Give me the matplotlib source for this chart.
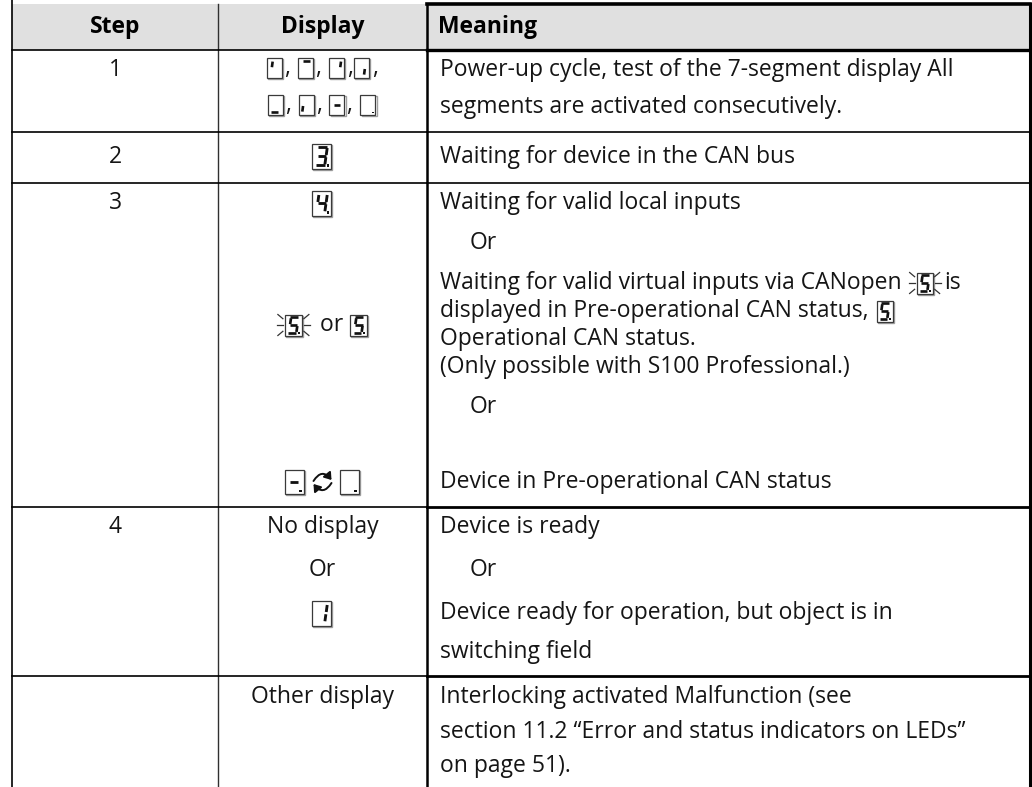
import matplotlib
matplotlib.use("Agg")
import matplotlib.pyplot as plt
from matplotlib.patches import Rectangle, FancyArrowPatch

plt.rcParams['font.family'] = ['Open Sans', 'DejaVu Sans']

W, H = 1032, 787
FS = 16.5      # body font size (pt)
BODY = "#151515"

# ---------------- table content ----------------
headers = ["Step", "Display", "Meaning"]
col_x = [12, 218, 427, 1030]          # column borders
row_y = [4, 50, 132, 183, 507, 676]   # header top, then top of each body row
steps = ["1", "2", "3", "4", ""]
step_y = [70, 157, 203, 527, 697]

# 7-segment icons: which segments are lit
SEG_CYCLE = [["f"], ["a"], ["b"], ["c"], ["d"], ["e"], ["g"], ["dp"]]
DIGIT_3 = ["a", "b", "g", "c", "d", "dp"]
DIGIT_4 = ["f", "g", "b", "c", "dp"]
DIGIT_5 = ["a", "f", "g", "c", "d", "dp"]
DIGIT_MINUS = ["g", "dp"]
DIGIT_DOT = ["dp"]
DIGIT_1 = ["b", "c"]

meaning_lines = [
    # (y, indent, text)
    (70, 0, "Power-up cycle, test of the 7-segment display All"),
    (107, 0, "segments are activated consecutively."),
    (157, 0, "Waiting for device in the CAN bus"),
    (203, 0, "Waiting for valid local inputs"),
    (243, 30, "Or"),
    (283, 0, "Waiting for valid virtual inputs via CANopen"),
    (311, 0, "displayed in Pre-operational CAN status,"),
    (339, 0, "Operational CAN status."),
    (367, 0, "(Only possible with S100 Professional.)"),
    (407, 30, "Or"),
    (482, 0, "Device in Pre-operational CAN status"),
    (527, 0, "Device is ready"),
    (570, 30, "Or"),
    (613, 0, "Device ready for operation, but object is in"),
    (652, 0, "switching field"),
    (697, 0, "Interlocking activated Malfunction (see"),
    (732, 0, "section 11.2 \u201cError and status indicators on LEDs\u201d"),
    (766, 0, "on page 51)."),
]
display_texts = [(527, "No display"), (570, "Or"), (697, "Other display")]

fig = plt.figure(figsize=(W / 100, H / 100), dpi=100)
ax = fig.add_axes([0, 0, 1, 1])
ax.set_xlim(0, W)
ax.set_ylim(H, 0)
ax.axis("off")
renderer = fig.canvas.get_renderer()


def text_right(t):
    # right edge of a text object in data coords
    bb = t.get_window_extent(renderer)
    return ax.transData.inverted().transform((bb.x1, bb.y0))[0]


def text_width(s):
    t = ax.text(0, 0, s, fontsize=FS)
    bb = t.get_window_extent(renderer)
    t.remove()
    return bb.width


SEGS = {
    "a": [(0.30, 0.13), (0.78, 0.13)],
    "b": [(0.80, 0.18), (0.75, 0.46)],
    "c": [(0.73, 0.55), (0.68, 0.83)],
    "d": [(0.20, 0.87), (0.66, 0.87)],
    "e": [(0.30, 0.55), (0.25, 0.83)],
    "f": [(0.36, 0.18), (0.31, 0.46)],
    "g": [(0.30, 0.505), (0.73, 0.505)],
}


def seg_icon(x, yc, segs, w=15, h=20, blink=False):
    """small 7-segment display box, x = left edge, yc = vertical centre"""
    y0 = yc - h / 2
    ax.add_patch(Rectangle((x + 1.2, y0 + 1.2), w, h, facecolor="none",
                           edgecolor="#a0a0a0", lw=1.0))
    ax.add_patch(Rectangle((x, y0), w, h, facecolor="white",
                           edgecolor="#3a3a3a", lw=0.9))
    lw = 1.3 + 0.03 * h
    for s in segs:
        if s == "dp":
            ax.add_patch(Rectangle((x + w * 0.78, y0 + h * 0.83), 0.12 * w, 0.09 * h,
                                   facecolor="#111111", lw=0))
            continue
        (u0, v0), (u1, v1) = SEGS[s]
        ax.plot([x + u0 * w, x + u1 * w], [y0 + v0 * h, y0 + v1 * h],
                color="#111111", lw=lw, solid_capstyle="butt")
    if blink:
        for dx, dy, ex, ey in [(-2, 0.5, -8, 0.5), (-2, 0.2, -7, 0.0),
                               (-2, 0.8, -7, 1.0), (w + 2, 0.5, w + 8, 0.5),
                               (w + 2, 0.2, w + 7, 0.0), (w + 2, 0.8, w + 7, 1.0)]:
            ax.plot([x + dx, x + ex], [y0 + dy * h, y0 + ey * h],
                    color="#333333", lw=0.9)


def cycle_arrows(xc, yc, r=9):
    """two half-circle arrows (toggle symbol)"""
    kw = dict(arrowstyle="-|>,head_length=4,head_width=2.8", color="#111111",
              lw=1.4, mutation_scale=1, shrinkA=0, shrinkB=0)
    ax.add_patch(FancyArrowPatch((xc - r, yc - 1), (xc + r, yc - 2),
                                 connectionstyle="arc3,rad=-0.7", **kw))
    ax.add_patch(FancyArrowPatch((xc + r, yc + 1), (xc - r, yc + 2),
                                 connectionstyle="arc3,rad=-0.7", **kw))


def icon_row(xc, yc, items, w=15, h=20, gap=1):
    """items: segment lists (icon), tuples (blinking icon), 'CYCLE' or strings"""
    widths = []
    for it in items:
        if isinstance(it, str):
            widths.append(22 if it == "CYCLE" else text_width(it))
        elif isinstance(it, tuple):
            widths.append(w + 2 + 18)
        else:
            widths.append(w + 2)
    total = sum(widths) + gap * (len(items) - 1)
    x = xc - total / 2
    for it, wd in zip(items, widths):
        if it == "CYCLE":
            cycle_arrows(x + wd / 2, yc)
        elif isinstance(it, str):
            ax.text(x, yc, it, fontsize=FS, color=BODY, va="center", ha="left")
        elif isinstance(it, tuple):
            seg_icon(x + 9, yc, it[0], w, h, blink=True)
        else:
            seg_icon(x, yc, it, w, h)
        x += wd + gap


# ---------------- header ----------------
ax.add_patch(Rectangle((col_x[0], row_y[0]), col_x[3] - col_x[0], row_y[1] - row_y[0],
                       facecolor="#e0e0e0", edgecolor="none"))
ax.plot([col_x[2], col_x[3]], [row_y[0], row_y[0]], color="black", lw=2.6)
hy = (row_y[0] + row_y[1]) / 2
ax.text((col_x[0] + col_x[1]) / 2, hy, headers[0], fontsize=FS, fontweight="bold",
        ha="center", va="center", color="black")
ax.text((col_x[1] + col_x[2]) / 2, hy, headers[1], fontsize=FS, fontweight="bold",
        ha="center", va="center", color="black")
ax.text(col_x[2] + 11, hy, headers[2], fontsize=FS, fontweight="bold",
        ha="left", va="center", color="black")

# ---------------- grid lines ----------------
ax.plot([col_x[0], col_x[0]], [0, H], color="black", lw=1.2)
ax.plot([col_x[1], col_x[1]], [row_y[0], H], color="#303030", lw=1.0)
ax.plot([col_x[2], col_x[2]], [row_y[0], H], color="black", lw=1.8)
ax.plot([col_x[3], col_x[3]], [row_y[0], H], color="black", lw=2.2)
thick = {50: 2.4, 507: 2.0, 676: 2.0}
for y in row_y[1:]:
    ax.plot([col_x[0], col_x[2]], [y, y], color="black", lw=1.2)
    ax.plot([col_x[2], col_x[3]], [y, y], color="black", lw=thick.get(y, 1.2))

# ---------------- step column ----------------
for s, y in zip(steps, step_y):
    if s:
        ax.text((col_x[0] + col_x[1]) / 2, y, s, fontsize=FS, color=BODY,
                ha="center", va="center")

# ---------------- display column ----------------
xc = (col_x[1] + col_x[2]) / 2
icon_row(xc, 68, [SEG_CYCLE[0], ", ", SEG_CYCLE[1], ", ", SEG_CYCLE[2], ",", SEG_CYCLE[3], ","])
icon_row(xc, 105, [SEG_CYCLE[4], ", ", SEG_CYCLE[5], ", ", SEG_CYCLE[6], ", ", SEG_CYCLE[7]])
icon_row(xc, 156, [DIGIT_3], w=19, h=25)
icon_row(xc, 203, [DIGIT_4], w=19, h=25)
icon_row(xc, 325, [(DIGIT_5,), " or ", DIGIT_5], w=17, h=21)
icon_row(xc, 482, [DIGIT_MINUS, "CYCLE", DIGIT_DOT], w=19, h=24, gap=6)
icon_row(xc, 613, [DIGIT_1], w=19, h=25)
for y, s in display_texts:
    ax.text(xc, y, s, fontsize=FS, color=BODY, ha="center", va="center")

# ---------------- meaning column ----------------
mx = col_x[2] + 13
for y, ind, s in meaning_lines:
    t = ax.text(mx + ind, y, s, fontsize=FS, color=BODY, ha="left", va="center")
    if s.endswith("CANopen"):
        xr = text_right(t)
        seg_icon(xr + 15, y, DIGIT_5, w=16, h=21, blink=True)
        ax.text(xr + 43, y, "is", fontsize=FS, color=BODY, ha="left", va="center")
    elif s.endswith("status,"):
        xr = text_right(t)
        seg_icon(xr + 8, y, DIGIT_5, w=16, h=21)

fig.savefig("out.png", dpi=100, facecolor="white")
